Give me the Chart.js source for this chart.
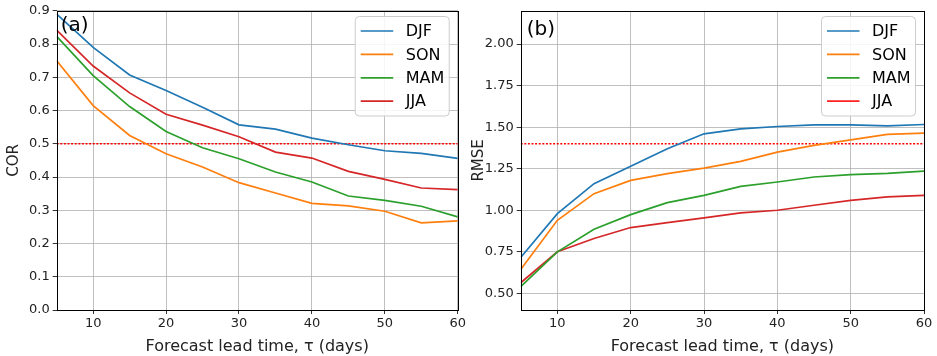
<!DOCTYPE html>
<html>
<head>
<meta charset="utf-8">
<script src="https://cdn.jsdelivr.net/npm/chart.js@4/dist/chart.umd.min.js"></script>
<style>
  html, body { margin:0; padding:0; background:#fff; }
  #wrap { position:relative; width:937px; height:356px; }
  .cv { position:absolute; top:0; height:356px; }
  #ca { left:0; width:468px; }
  #cb { left:468px; width:469px; }
</style>
</head>
<body>
<div id="wrap">
  <div class="cv" id="ca"><canvas id="chartA"></canvas></div>
  <div class="cv" id="cb"><canvas id="chartB"></canvas></div>
</div>
<script>
// ---- data ----
const leadDays = [5, 10, 15, 20, 25, 30, 35, 40, 45, 50, 55, 60];
const seasons = ["DJF", "SON", "MAM", "JJA"];

const corDJF = [0.89, 0.79, 0.707, 0.66, 0.61, 0.557, 0.544, 0.517, 0.497, 0.479, 0.471, 0.456];
const corSON = [0.75, 0.615, 0.525, 0.47, 0.43, 0.383, 0.352, 0.321, 0.313, 0.297, 0.262, 0.268];
const corMAM = [0.823, 0.705, 0.612, 0.537, 0.488, 0.455, 0.415, 0.385, 0.343, 0.33, 0.312, 0.28];
const corJJA = [0.842, 0.734, 0.653, 0.589, 0.556, 0.521, 0.475, 0.457, 0.417, 0.393, 0.367, 0.362];

const rmseDJF = [0.716, 0.98, 1.16, 1.265, 1.37, 1.46, 1.49, 1.504, 1.514, 1.514, 1.508, 1.516];
const rmseSON = [0.644, 0.94, 1.10, 1.18, 1.22, 1.254, 1.294, 1.35, 1.39, 1.424, 1.456, 1.464];
const rmseMAM = [0.54, 0.75, 0.886, 0.974, 1.046, 1.09, 1.144, 1.17, 1.2, 1.214, 1.222, 1.236];
const rmseJJA = [0.564, 0.75, 0.83, 0.896, 0.926, 0.954, 0.984, 1.0, 1.03, 1.06, 1.08, 1.09];

const corThreshold = 0.5;
const rmseThreshold = 1.4;

const xTicks = [10, 20, 30, 40, 50, 60];
const corTicks = [0.0, 0.1, 0.2, 0.3, 0.4, 0.5, 0.6, 0.7, 0.8, 0.9];
const rmseTicks = [0.50, 0.75, 1.00, 1.25, 1.50, 1.75, 2.00];

// ---- styles ----
const colors = ["#1f77b4", "#ff7f0e", "#2ca02c", "#d62728"];
const FONT = "'DejaVu Sans', sans-serif";
const TXT = "#222";

function series(vals) { return leadDays.map((d, i) => ({ x: d, y: vals[i] })); }

function buildDatasets(list, thr) {
  const ds = list.map((vals, i) => ({
    label: seasons[i], data: series(vals), borderColor: colors[i],
    borderWidth: 1.7, pointRadius: 0, tension: 0, fill: false
  }));
  ds.push({
    label: "_thr", data: [{ x: leadDays[0], y: thr }, { x: leadDays[leadDays.length - 1], y: thr }],
    borderColor: "#ff0000", borderWidth: 1.5, borderDash: [2, 1.6], pointRadius: 0, fill: false
  });
  return ds;
}

const framePlugin = {
  id: "frame",
  afterDraw(chart, args, opts) {
    const { ctx, chartArea: a } = chart;
    ctx.save();
    ctx.strokeStyle = "#000";
    ctx.lineWidth = 1;
    ctx.strokeRect(Math.round(a.left) + 0.5, Math.round(a.top) + 0.5, Math.round(a.right - a.left), Math.round(a.bottom - a.top));
    ctx.fillStyle = "#000";
    ctx.font = "20px " + FONT;
    ctx.textBaseline = "middle";
    ctx.textAlign = "left";
    ctx.fillText(opts.panel, a.left + opts.px, a.top + opts.py);
    const bw = 94, bh = 99.5;
    const bx = a.right - 8.5 - bw, by = a.top + 5.7;
    ctx.beginPath();
    const r = 4;
    ctx.moveTo(bx + r, by);
    ctx.arcTo(bx + bw, by, bx + bw, by + bh, r);
    ctx.arcTo(bx + bw, by + bh, bx, by + bh, r);
    ctx.arcTo(bx, by + bh, bx, by, r);
    ctx.arcTo(bx, by, bx + bw, by, r);
    ctx.closePath();
    ctx.fillStyle = "rgba(255,255,255,0.85)";
    ctx.fill();
    ctx.strokeStyle = "#cccccc";
    ctx.lineWidth = 1;
    ctx.stroke();
    ctx.font = "16px " + FONT;
    const ds = chart.data.datasets.filter(d => !d.label.startsWith("_"));
    ds.forEach((d, i) => {
      const yy = by + 14.5 + i * 23.4;
      ctx.strokeStyle = (opts.legendColors && opts.legendColors[i]) || d.borderColor;
      ctx.lineWidth = 1.7;
      ctx.beginPath();
      ctx.moveTo(bx + 5.5, yy);
      ctx.lineTo(bx + 38, yy);
      ctx.stroke();
      ctx.fillStyle = "#000";
      ctx.fillText(d.label, bx + 50.5, yy + 1);
    });
    ctx.restore();
  }
};

function makeChart(id, datasets, yMin, yMax, yTicks, yFmt, yTitle, pad, yW, titlePad, frameOpts) {
  return new Chart(document.getElementById(id), {
    type: "line",
    data: { datasets },
    plugins: [framePlugin],
    options: {
      responsive: true, maintainAspectRatio: false, animation: false,
      layout: { padding: pad },
      plugins: { legend: { display: false }, tooltip: { enabled: false }, frame: frameOpts },
      scales: {
        x: {
          type: "linear", min: 5, max: 60,
          afterBuildTicks: s => { s.ticks = xTicks.map(v => ({ value: v })); },
          afterFit: s => { s.height = 46; },
          grid: { color: "#b0b0b0", lineWidth: 0.8, tickLength: 4, tickColor: "#000", drawOnChartArea: true },
          border: { display: false },
          ticks: { color: TXT, font: { family: FONT, size: 13 }, padding: 2, maxRotation: 0,
                   callback: v => String(v) },
          title: { display: true, text: "Forecast lead time, \u03c4 (days)", color: TXT,
                   font: { family: FONT, size: 16 }, padding: { top: 0, bottom: 0 } }
        },
        y: {
          min: yMin, max: yMax,
          afterBuildTicks: s => { s.ticks = yTicks.map(v => ({ value: v })); },
          afterFit: s => { s.width = yW; },
          grid: { color: "#b0b0b0", lineWidth: 0.8, tickLength: 4, tickColor: "#000" },
          border: { display: false },
          ticks: { color: TXT, font: { family: FONT, size: 13 }, padding: 3, callback: yFmt },
          title: { display: true, text: yTitle, color: TXT, font: { family: FONT, size: 15 }, padding: { top: titlePad, bottom: 2 } }
        }
      }
    }
  });
}

makeChart("chartA", buildDatasets([corDJF, corSON, corMAM, corJJA], corThreshold),
  0, 0.9, corTicks, v => v.toFixed(1), "COR",
  { left: 0, right: 8.7, top: 10, bottom: 0 }, 56.7, 5,
  { panel: "(a)", px: 4, py: 15 });

makeChart("chartB", buildDatasets([rmseDJF, rmseSON, rmseMAM, rmseJJA], rmseThreshold),
  0.4, 2.2, rmseTicks, v => v.toFixed(2), "RMSE",
  { left: 0, right: 13, top: 9.3, bottom: 0 }, 52.7, 2,
  { panel: "(b)", px: 6, py: 19, legendColors: [null, null, null, "#ff2020"] });
</script>
</body>
</html>
